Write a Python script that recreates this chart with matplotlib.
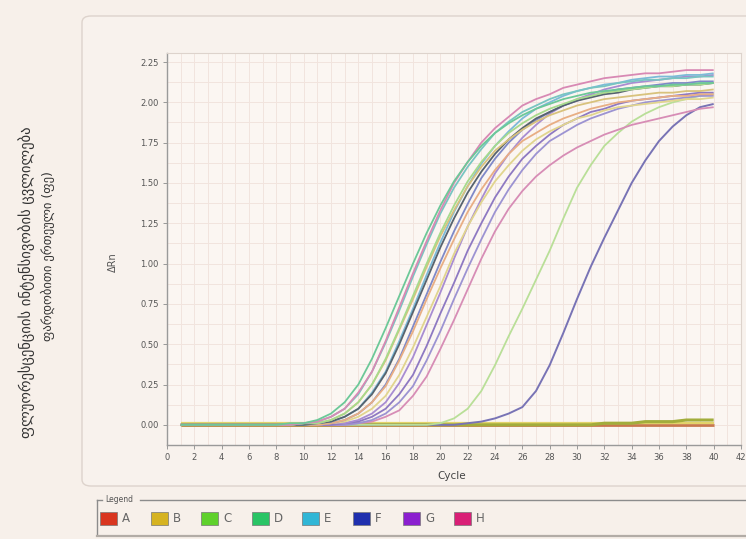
import matplotlib.pyplot as plt
from matplotlib.patches import FancyBboxPatch, Rectangle
from matplotlib.lines import Line2D

# Cycle numbers and amplification curves (delta Rn per cycle)
cycles = list(range(1, 41))

green_d = [0, 0, 0, 0, 0, 0, 0, 0, 0.01, 0.01, 0.03, 0.07, 0.14, 0.25, 0.41, 0.60, 0.80, 1.00, 1.19, 1.36,
           1.51, 1.63, 1.73, 1.81, 1.87, 1.92, 1.96, 1.99, 2.02, 2.04, 2.06, 2.07, 2.08, 2.09, 2.10, 2.10, 2.11, 2.11, 2.12, 2.12]
pink_top = [0, 0, 0, 0, 0, 0, 0, 0, 0, 0.01, 0.02, 0.05, 0.10, 0.20, 0.33, 0.52, 0.73, 0.94, 1.14, 1.33,
            1.50, 1.63, 1.75, 1.84, 1.91, 1.98, 2.02, 2.05, 2.09, 2.11, 2.13, 2.15, 2.16, 2.17, 2.18, 2.18, 2.19, 2.20, 2.20, 2.20]
teal_e = [0, 0, 0, 0, 0, 0, 0, 0, 0, 0.01, 0.02, 0.05, 0.10, 0.19, 0.33, 0.51, 0.71, 0.92, 1.12, 1.31,
          1.47, 1.60, 1.71, 1.81, 1.88, 1.94, 1.98, 2.02, 2.05, 2.07, 2.09, 2.10, 2.12, 2.13, 2.14, 2.14, 2.15, 2.15, 2.16, 2.16]
lime_c = [0, 0, 0, 0, 0, 0, 0, 0, 0, 0.01, 0.01, 0.03, 0.07, 0.14, 0.25, 0.41, 0.60, 0.80, 1.00, 1.19,
          1.36, 1.51, 1.63, 1.73, 1.81, 1.87, 1.92, 1.96, 1.99, 2.02, 2.04, 2.06, 2.07, 2.08, 2.09, 2.10, 2.10, 2.11, 2.11, 2.12]
gold_b = [0, 0, 0, 0, 0, 0, 0, 0, 0, 0.01, 0.01, 0.03, 0.07, 0.14, 0.25, 0.40, 0.59, 0.78, 0.98, 1.17,
          1.33, 1.48, 1.60, 1.70, 1.77, 1.83, 1.88, 1.92, 1.95, 1.98, 2.00, 2.02, 2.03, 2.04, 2.05, 2.06, 2.06, 2.07, 2.07, 2.08]
slate = [0, 0, 0, 0, 0, 0, 0, 0, 0, 0, 0.01, 0.02, 0.05, 0.10, 0.19, 0.32, 0.50, 0.70, 0.90, 1.10,
         1.28, 1.44, 1.57, 1.68, 1.77, 1.84, 1.90, 1.94, 1.98, 2.01, 2.03, 2.05, 2.06, 2.08, 2.09, 2.10, 2.10, 2.11, 2.11, 2.12]
cyan_e = [0, 0, 0, 0, 0, 0, 0, 0, 0, 0, 0.01, 0.02, 0.05, 0.10, 0.20, 0.33, 0.52, 0.72, 0.93, 1.13,
          1.32, 1.48, 1.62, 1.73, 1.82, 1.90, 1.96, 2.00, 2.04, 2.07, 2.09, 2.11, 2.12, 2.14, 2.15, 2.16, 2.16, 2.17, 2.17, 2.18]
orange_a = [0, 0, 0, 0, 0, 0, 0, 0, 0, 0, 0, 0.01, 0.03, 0.07, 0.14, 0.24, 0.40, 0.58, 0.78, 0.97,
            1.15, 1.32, 1.46, 1.58, 1.68, 1.76, 1.81, 1.86, 1.90, 1.93, 1.96, 1.98, 2.00, 2.01, 2.02, 2.03, 2.04, 2.04, 2.05, 2.05]
blue_f = [0, 0, 0, 0, 0, 0, 0, 0, 0, 0, 0, 0.01, 0.03, 0.07, 0.14, 0.25, 0.41, 0.61, 0.81, 1.01,
          1.20, 1.37, 1.53, 1.65, 1.75, 1.83, 1.89, 1.94, 1.98, 2.01, 2.04, 2.06, 2.08, 2.09, 2.10, 2.11, 2.12, 2.12, 2.13, 2.13]
yellow_b = [0, 0, 0, 0, 0, 0, 0, 0, 0, 0, 0, 0.01, 0.02, 0.05, 0.10, 0.18, 0.31, 0.48, 0.67, 0.86,
            1.06, 1.23, 1.38, 1.51, 1.61, 1.70, 1.77, 1.82, 1.86, 1.90, 1.92, 1.95, 1.97, 1.98, 1.99, 2.00, 2.01, 2.02, 2.02, 2.03]
purple_g = [0, 0, 0, 0, 0, 0, 0, 0, 0, 0, 0, 0.01, 0.01, 0.03, 0.07, 0.14, 0.26, 0.42, 0.62, 0.82,
            1.03, 1.23, 1.40, 1.56, 1.68, 1.78, 1.86, 1.93, 1.98, 2.02, 2.05, 2.08, 2.10, 2.12, 2.13, 2.14, 2.15, 2.16, 2.16, 2.17]
violet_g = [0, 0, 0, 0, 0, 0, 0, 0, 0, 0, 0, 0, 0.01, 0.02, 0.05, 0.10, 0.19, 0.31, 0.49, 0.69,
            0.88, 1.08, 1.25, 1.41, 1.54, 1.65, 1.73, 1.80, 1.86, 1.90, 1.94, 1.96, 1.99, 2.01, 2.02, 2.03, 2.04, 2.05, 2.06, 2.06]
lavender_f = [0, 0, 0, 0, 0, 0, 0, 0, 0, 0, 0, 0, 0, 0.01, 0.03, 0.07, 0.14, 0.24, 0.40, 0.58,
              0.78, 0.97, 1.15, 1.32, 1.46, 1.58, 1.68, 1.76, 1.81, 1.86, 1.90, 1.93, 1.96, 1.98, 2.00, 2.01, 2.02, 2.03, 2.04, 2.04]
pink_low = [0, 0, 0, 0, 0, 0, 0, 0, 0, 0, 0, 0, 0, 0.01, 0.02, 0.05, 0.09, 0.18, 0.30, 0.47,
            0.65, 0.84, 1.03, 1.20, 1.34, 1.45, 1.54, 1.61, 1.67, 1.72, 1.76, 1.80, 1.83, 1.86, 1.88, 1.90, 1.92, 1.94, 1.96, 1.97]
late_lime = [0, 0, 0, 0, 0, 0, 0, 0, 0, 0, 0, 0, 0, 0, 0, 0, 0, 0, 0, 0.01,
             0.04, 0.10, 0.21, 0.37, 0.55, 0.72, 0.90, 1.08, 1.28, 1.47, 1.61, 1.73, 1.81, 1.88, 1.93, 1.97, 2.00, 2.02, 2.04, 2.05]
late_purple = [0, 0, 0, 0, 0, 0, 0, 0, 0, 0, 0, 0, 0, 0, 0, 0, 0, 0, 0, 0,
               0, 0.01, 0.02, 0.04, 0.07, 0.11, 0.21, 0.37, 0.57, 0.78, 0.98, 1.16, 1.33, 1.50, 1.64, 1.76, 1.85, 1.92, 1.97, 1.99]
flat_red = [0.0] * 40
flat_olive = [0, 0, 0, 0, 0, 0, 0, 0, 0, 0, 0, 0, 0, 0, 0, 0, 0, 0, 0, 0,
              0, 0, 0, 0, 0, 0, 0, 0, 0, 0, 0, 0.01, 0.01, 0.01, 0.02, 0.02, 0.02, 0.03, 0.03, 0.03]
flat_yellow = [0.01] * 40

curves = [
    (flat_red, '#c8784e', 2.0),
    (flat_yellow, '#e2d36a', 1.6),
    (flat_olive, '#a2ad3c', 2.2),
    (late_purple, '#7873b5', 1.4),
    (late_lime, '#b9df98', 1.3),
    (pink_low, '#d78db6', 1.3),
    (lavender_f, '#9c93d2', 1.3),
    (violet_g, '#8e79c2', 1.3),
    (purple_g, '#a88cd2', 1.3),
    (yellow_b, '#e1d58e', 1.3),
    (blue_f, '#7f89c8', 1.3),
    (orange_a, '#e8ae84', 1.3),
    (cyan_e, '#7cbad8', 1.3),
    (slate, '#56636f', 1.3),
    (gold_b, '#d8c27c', 1.3),
    (lime_c, '#a7da8c', 1.3),
    (teal_e, '#78c5c2', 1.3),
    (pink_top, '#d889b4', 1.3),
    (green_d, '#6cc898', 1.3),
]

legend_labels = ['A', 'B', 'C', 'D', 'E', 'F', 'G', 'H']
legend_colors = ['#d9351f', '#d6b320', '#5fd12b', '#29c465', '#30b6d6', '#1f2fae', '#8b1fcf', '#d91f76']

x_ticks = list(range(0, 43, 2))
y_ticks = [0.0, 0.25, 0.5, 0.75, 1.0, 1.25, 1.5, 1.75, 2.0, 2.25]

W, H = 746, 539


def fx(x):
    return x / W


def fy(y):
    return 1 - y / H


fig = plt.figure(figsize=(W / 100, H / 100), dpi=100, facecolor='#f7f0ea')

# outer panel with rounded corner, kept behind the axes
panel = FancyBboxPatch((fx(82), fy(486)), fx(700), 470 / H,
                       boxstyle='round,pad=0,rounding_size=0.012',
                       transform=fig.transFigure, facecolor='#f8f2ed',
                       edgecolor='#ddd3cc', linewidth=1.0, zorder=-5)
fig.add_artist(panel)

ax = fig.add_axes([fx(167), fy(445), (741 - 167) / W, (445 - 53) / H])
ax.set_facecolor('#fbf6f2')

for values, color, lw in curves:
    ax.plot(cycles, values, color=color, lw=lw, solid_capstyle='butt')

ax.set_xlim(0, 41.65)
ax.set_ylim(-0.111, 2.306)
ax.set_xticks(x_ticks)
ax.set_xticklabels([str(t) for t in x_ticks])
ax.set_yticks(y_ticks)
ax.set_yticklabels(['%.2f' % t for t in y_ticks])
ax.set_xticks(range(0, 42), minor=True)
ax.set_yticks([i * 0.125 for i in range(-1, 19)], minor=True)
ax.grid(which='both', color='#f1e4de', lw=0.7)
ax.set_axisbelow(True)
ax.tick_params(which='major', length=3, width=0.6, color='#8a8a8a',
               labelsize=6, labelcolor='#555555', pad=3)
ax.tick_params(which='minor', length=0)
for side in ['left', 'bottom']:
    ax.spines[side].set_color('#9a9a9a')
    ax.spines[side].set_linewidth(1.0)
for side in ['top', 'right']:
    ax.spines[side].set_color('#ddd3cc')
    ax.spines[side].set_linewidth(0.8)

fig.text(fx(113), fy(262), 'ΔRn', rotation=90, ha='center', va='center',
         fontsize=7, color='#555555')
fig.text(fx(452), fy(476), 'Cycle', ha='center', va='center',
         fontsize=7.5, color='#444444')

# Georgian axis caption on the far left
fig.text(fx(27), fy(282), 'ფლუორესცენციის ინტენსივობის ცვლილება', rotation=90,
         ha='center', va='center', fontsize=10.5, color='#333333')
fig.text(fx(48), fy(256), 'ფარდობითი ერთეული (ფე)', rotation=90,
         ha='center', va='center', fontsize=9, color='#333333')

# legend group box
fig.add_artist(Line2D([fx(97), fx(97)], [fy(500), fy(534)], color='#8c8c8c', lw=1.0))
fig.add_artist(Line2D([fx(97), fx(102)], [fy(500), fy(500)], color='#8c8c8c', lw=1.0))
fig.add_artist(Line2D([fx(140), fx(746)], [fy(500), fy(500)], color='#8c8c8c', lw=1.0))
fig.add_artist(Line2D([fx(97), fx(746)], [fy(536), fy(536)], color='#b2aca6', lw=1.6))
fig.text(fx(105), fy(500), 'Legend', ha='left', va='center', fontsize=5.5, color='#555555')

for i, (lab, col) in enumerate(zip(legend_labels, legend_colors)):
    x0 = 100 + i * 50.5
    fig.add_artist(Rectangle((fx(x0), fy(525)), 17 / W, 13 / H, transform=fig.transFigure,
                             facecolor=col, edgecolor='#777777', linewidth=0.5))
    fig.text(fx(x0 + 22), fy(519), lab, ha='left', va='center', fontsize=8.5, color='#666666')

fig.savefig('out.png', dpi=100, facecolor=fig.get_facecolor())
